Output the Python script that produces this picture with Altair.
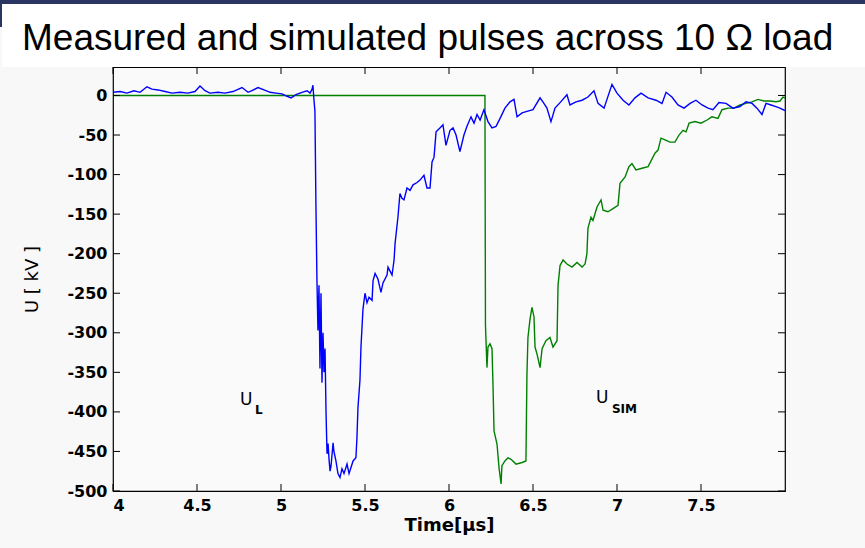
import altair as alt
import pandas as pd

# ---- data ----
ul_t = [4.000, 4.042, 4.083, 4.125, 4.161, 4.202, 4.232, 4.268, 4.310, 4.351, 4.399, 4.446, 4.488,
        4.518, 4.548, 4.577, 4.625, 4.667, 4.714, 4.768, 4.804, 4.827, 4.863, 4.899, 4.935, 4.970,
        5.006, 5.036, 5.060, 5.089, 5.125, 5.155, 5.173, 5.185, 5.190, 5.196, 5.202, 5.208, 5.214,
        5.220, 5.226, 5.232, 5.238, 5.244, 5.250, 5.256, 5.262, 5.268, 5.274, 5.280, 5.286, 5.292,
        5.298, 5.310, 5.315, 5.327, 5.339, 5.351, 5.363, 5.375, 5.393, 5.405, 5.417, 5.429, 5.446,
        5.452, 5.458, 5.470, 5.476, 5.488, 5.500, 5.512, 5.524, 5.542, 5.548, 5.560, 5.577, 5.595,
        5.607, 5.631, 5.637, 5.649, 5.661, 5.673, 5.679, 5.696, 5.708, 5.720, 5.732, 5.750, 5.768,
        5.786, 5.810, 5.827, 5.851, 5.869, 5.887, 5.899, 5.911, 5.923, 5.946, 5.964, 5.982, 6.006,
        6.024, 6.042, 6.065, 6.089, 6.107, 6.131, 6.149, 6.167, 6.185, 6.208, 6.232, 6.256, 6.280,
        6.304, 6.333, 6.363, 6.387, 6.405, 6.435, 6.464, 6.500, 6.542, 6.565, 6.583, 6.607, 6.631,
        6.661, 6.702, 6.720, 6.756, 6.792, 6.827, 6.863, 6.887, 6.923, 6.970, 7.000, 7.036, 7.071,
        7.107, 7.143, 7.185, 7.232, 7.268, 7.292, 7.327, 7.363, 7.399, 7.435, 7.470, 7.506, 7.542,
        7.571, 7.607, 7.649, 7.690, 7.732, 7.768, 7.804, 7.833, 7.863, 7.887, 7.917, 7.946, 7.970,
        8.000]
ul_v = [4, 5, 3, 6, 4, 11, 8, 7, 5, 3, 4, 3, 5,
        12, 6, 3, 4, 3, 5, 10, 4, 6, 10, 7, 4, 3,
        2, -1, -3, 1, 4, 6, 3, 8, 13, -5, -20, -140, -234,
        -297, -240, -345, -250, -363, -300, -350, -320, -400, -453, -440, -460, -475,
        -468, -439, -450, -462, -478, -483, -472, -478, -466, -478, -470, -462, -458,
        -433, -395, -360, -318, -270, -250, -262, -255, -259, -234, -225, -232, -249,
        -237, -227, -217, -222, -227, -208, -187, -154, -124, -130, -132, -117, -120,
        -113, -110, -107, -101, -117, -117, -84, -78, -46, -41, -37, -63, -44,
        -41, -50, -71, -50, -39, -27, -35, -24, -31, -18, -33, -41, -39,
        -29, -16, -8, -5, -27, -22, -20, -18, -3, -10, -16, -33, -16,
        -9, 1, -12, -8, -6, -2, 6, -10, -16, 14, 3, -6, -12,
        -3, 3, -3, -6, -10, 4, -2, -12, -16, -10, -6, -12, -16,
        -18, -9, -10, -16, -14, -8, -10, -16, -24, -10, -12, -14, -16,
        -19]

usim_t = [4.000, 6.214, 6.217, 6.226, 6.232, 6.244, 6.256, 6.262, 6.268, 6.286, 6.298, 6.310, 6.315,
          6.333, 6.351, 6.369, 6.399, 6.435, 6.458, 6.464, 6.470, 6.482, 6.494, 6.506, 6.512, 6.524,
          6.542, 6.554, 6.577, 6.601, 6.619, 6.643, 6.649, 6.661, 6.679, 6.702, 6.732, 6.762, 6.792,
          6.810, 6.821, 6.827, 6.845, 6.857, 6.881, 6.905, 6.917, 6.946, 6.976, 7.006, 7.018, 7.048,
          7.071, 7.089, 7.113, 7.149, 7.185, 7.226, 7.244, 7.262, 7.286, 7.315, 7.345, 7.369, 7.393,
          7.411, 7.429, 7.464, 7.500, 7.536, 7.565, 7.601, 7.625, 7.661, 7.696, 7.732, 7.768, 7.804,
          7.839, 7.875, 7.911, 7.946, 7.970, 7.988, 8.000]
usim_v = [0, 0, -290, -344, -318, -314, -320, -367, -424, -441, -471, -491, -468,
          -462, -458, -460, -466, -464, -462, -352, -306, -283, -268, -280, -318, -327,
          -344, -320, -310, -306, -318, -310, -240, -215, -208, -213, -217, -211, -217,
          -213, -200, -168, -154, -158, -141, -132, -145, -147, -143, -139, -111, -103,
          -90, -86, -94, -92, -90, -73, -69, -54, -56, -59, -59, -50, -44,
          -46, -35, -33, -35, -31, -27, -29, -18, -16, -16, -12, -10, -8,
          -5, -7, -7, -8, -7, -2, -3]

x_ticks = [4, 4.5, 5, 5.5, 6, 6.5, 7, 7.5]
y_ticks = [0, -50, -100, -150, -200, -250, -300, -350, -400, -450, -500]

title_text = "Measured and simulated pulses across 10 \u03a9 load"
x_title = "Time[\u00b5s]"
y_title = "U [ kV ]"
labels_main = ["U", "U"]
labels_sub = ["L", "SIM"]
label_t = [4.756, 6.875]
label_v = [-391, -389]
sub_t = [4.845, 6.970]
sub_v = [-403, -401]

W, H = 672, 424
xs = alt.Scale(domain=[4, 8], nice=False, zero=False)
ys = alt.Scale(domain=[-500, 36], nice=False, zero=False)

ul = pd.DataFrame({"t": ul_t, "v": ul_v})
us = pd.DataFrame({"t": usim_t, "v": usim_v})
xt = pd.DataFrame({"t": x_ticks})
yt = pd.DataFrame({"v": y_ticks})
lab = pd.DataFrame({"t": label_t, "v": label_v, "s": labels_main})
sub = pd.DataFrame({"t": sub_t, "v": sub_v, "s": labels_sub})
one = pd.DataFrame({"a": [0]})

axis_font = "DejaVu Sans"

line_ul = alt.Chart(ul).mark_line(color="#0000ff", strokeWidth=1.4, clip=True).encode(
    x=alt.X("t:Q", scale=xs,
            axis=alt.Axis(values=x_ticks, title=x_title, ticks=False, domain=False, grid=False,
                          labelExpr="'' + datum.value", labelFont=axis_font, labelFontWeight="bold",
                          labelFontSize=16, labelColor="black", labelPadding=6,
                          titleFont=axis_font, titleFontWeight="bold", titleFontSize=18,
                          titleColor="black", titleY=39, titleBaseline="alphabetic")),
    y=alt.Y("v:Q", scale=ys,
            axis=alt.Axis(values=y_ticks, title=y_title, ticks=False, domain=False, grid=False,
                          labelExpr="'' + datum.value", labelFont=axis_font, labelFontWeight="bold",
                          labelFontSize=16, labelColor="black", labelPadding=6,
                          titleFont=axis_font, titleFontWeight="normal", titleFontSize=18,
                          titleColor="black", titleX=-81, titleY=212, titleAngle=270,
                          titleAlign="center", titleBaseline="middle")),
)
line_us = alt.Chart(us).mark_line(color="#008000", strokeWidth=1.4, clip=True).encode(
    x=alt.X("t:Q", scale=xs), y=alt.Y("v:Q", scale=ys))

tick_b = alt.Chart(xt).mark_rule(color="black", strokeWidth=1).encode(
    x=alt.X("t:Q", scale=xs), y=alt.value(H), y2=alt.value(H - 7))
tick_t = alt.Chart(xt).mark_rule(color="black", strokeWidth=1).encode(
    x=alt.X("t:Q", scale=xs), y=alt.value(0), y2=alt.value(7))
tick_l = alt.Chart(yt).mark_rule(color="black", strokeWidth=1).encode(
    y=alt.Y("v:Q", scale=ys), x=alt.value(0), x2=alt.value(7))
tick_r = alt.Chart(yt).mark_rule(color="black", strokeWidth=1).encode(
    y=alt.Y("v:Q", scale=ys), x=alt.value(W), x2=alt.value(W - 7))

txt_main = alt.Chart(lab).mark_text(align="left", baseline="alphabetic", font=axis_font,
                                    fontSize=17, color="black").encode(
    x=alt.X("t:Q", scale=xs), y=alt.Y("v:Q", scale=ys), text="s:N")
txt_sub = alt.Chart(sub).mark_text(align="left", baseline="alphabetic", font=axis_font,
                                   fontSize=12, fontWeight="bold", color="black").encode(
    x=alt.X("t:Q", scale=xs), y=alt.Y("v:Q", scale=ys), text="s:N")

# slide header decorations
band = alt.Chart(one).mark_rect(color="white").encode(
    x=alt.value(-111), x2=alt.value(W + 80), y=alt.value(-64), y2=alt.value(0))
navy = alt.Chart(one).mark_rect(color="#2a3561").encode(
    x=alt.value(-113), x2=alt.value(W + 80), y=alt.value(-67), y2=alt.value(-63))
navy_l = alt.Chart(one).mark_rect(color="#2a3561").encode(
    x=alt.value(-113), x2=alt.value(-111), y=alt.value(-67), y2=alt.value(-40))
title = alt.Chart(one).mark_text(align="left", baseline="alphabetic", font="Liberation Sans",
                                 fontSize=37, color="black").encode(
    x=alt.value(-91), y=alt.value(-17), text=alt.value(title_text))

chart = alt.layer(band, navy, navy_l, title, line_us, line_ul, tick_b, tick_t, tick_l, tick_r,
                  txt_main, txt_sub).properties(
    width=W, height=H,
    autosize=alt.AutoSizeParams(type="none"),
    padding={"left": 113, "top": 67, "right": 80, "bottom": 57},
    background="#f8f8f8",
).configure_view(stroke="black", strokeWidth=1.2, fill="#fafafa")

chart.save("out.html", embed_options={"renderer": "svg", "actions": False})
